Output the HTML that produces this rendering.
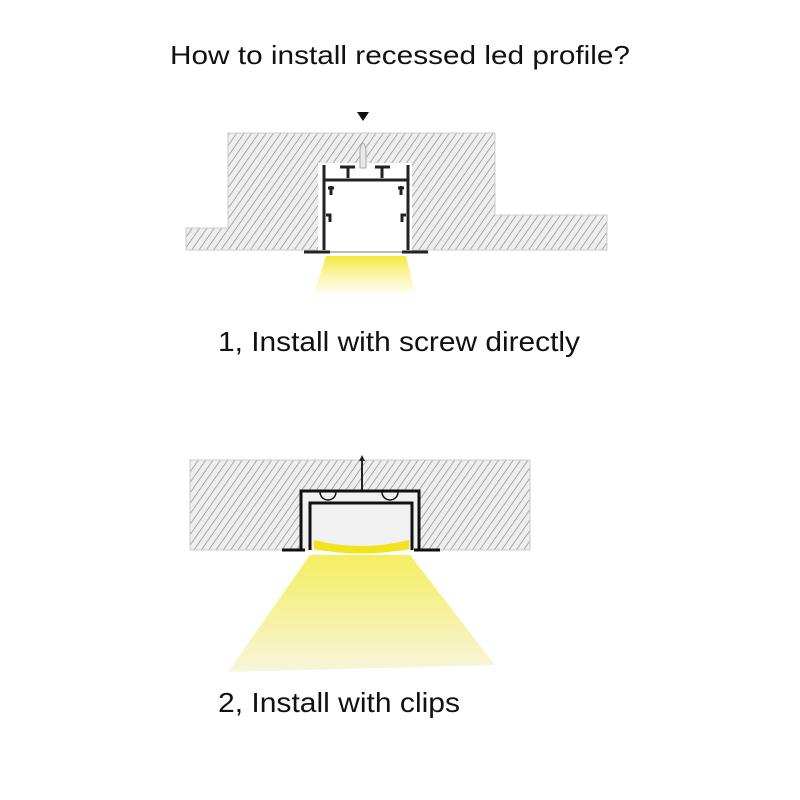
<!DOCTYPE html>
<html><head><meta charset="utf-8"><style>
body{margin:0;background:#fff;}
svg{display:block}
text{font-family:"Liberation Sans",sans-serif;fill:#111}
</style></head><body>
<svg width="800" height="800" viewBox="0 0 800 800">
<defs>
<pattern id="h" width="6" height="6" patternUnits="userSpaceOnUse" patternTransform="rotate(35)">
<rect width="6" height="6" fill="#eeeeee"/><line x1="0" y1="0" x2="0" y2="6" stroke="#8a8a8a" stroke-width="1.4"/>
</pattern>
<linearGradient id="y1" x1="0" y1="0" x2="0" y2="1"><stop offset="0" stop-color="#f5e83a"/><stop offset="1" stop-color="#fffbe0" stop-opacity="0.6"/></linearGradient>
<linearGradient id="y2" x1="0" y1="0" x2="0" y2="1"><stop offset="0" stop-color="#f5ee60"/><stop offset="1" stop-color="#f7f5dc"/></linearGradient>
</defs>
<rect width="800" height="800" fill="#fff"/>
<text x="170" y="64" font-size="26" textLength="460" lengthAdjust="spacingAndGlyphs">How to install recessed led profile?</text>

<!-- Diagram 1 -->
<path d="M228 133 H495 V215 H607 V250 H186 V228 H228 Z" fill="url(#h)" stroke="#ccc"/>
<rect x="318" y="163" width="94" height="88" fill="#fff"/>
<polygon points="357,112 369,112 363,121" fill="#111"/>
<path d="M360 150 Q363 136 366 150 V168 H360 Z" fill="#e8e8e8" stroke="#aaa"/>
<g fill="none" stroke="#222" stroke-width="3">
<path d="M324 165 V250 M408 165 V250"/>
<path d="M324 180 H408"/>
<path d="M340 167 H355 M348 167 V178 M375 167 H390 M382 167 V178"/>
<path d="M328 188 H334 M331 186 V195 M404 188 H398 M401 186 V195"/>
<path d="M326 215 H330 V222 M406 215 H402 V222"/>
<path d="M304 252 H330 M402 252 H428"/>
</g>
<line x1="330" y1="252" x2="402" y2="252" stroke="#bbb" stroke-width="2"/>
<polygon points="326,256 406,256 415,293 314,293" fill="url(#y1)"/>

<text x="218" y="351" font-size="28" textLength="362" lengthAdjust="spacingAndGlyphs">1, Install with screw directly</text>

<!-- Diagram 2 -->
<rect x="190" y="460" width="340" height="90" fill="url(#h)" stroke="#ccc"/>
<rect x="300" y="490" width="120" height="61" fill="#f1f1f1"/>
<polygon points="359,461 362,455 365,461" fill="#222"/>
<line x1="362" y1="461" x2="362" y2="490" stroke="#222" stroke-width="2"/>
<g fill="none" stroke="#111" stroke-width="3">
<path d="M301 550 V491 H419 V550"/>
<path d="M310 550 V503 H412 V550"/>
<path d="M282 550 H305 M414 550 H440"/>
</g>
<path d="M320 492 A8 8 0 0 0 336 492 M382 492 A8 8 0 0 0 398 492" fill="none" stroke="#111" stroke-width="1.5"/>
<path d="M314 540 Q360 552 409 540 V549 Q360 558 314 549 Z" fill="#f1e41f"/>
<polygon points="310,555 410,555 495,665 228,672" fill="url(#y2)"/>

<text x="218" y="712" font-size="28" textLength="242" lengthAdjust="spacingAndGlyphs">2, Install with clips</text>
</svg>
</body></html>
